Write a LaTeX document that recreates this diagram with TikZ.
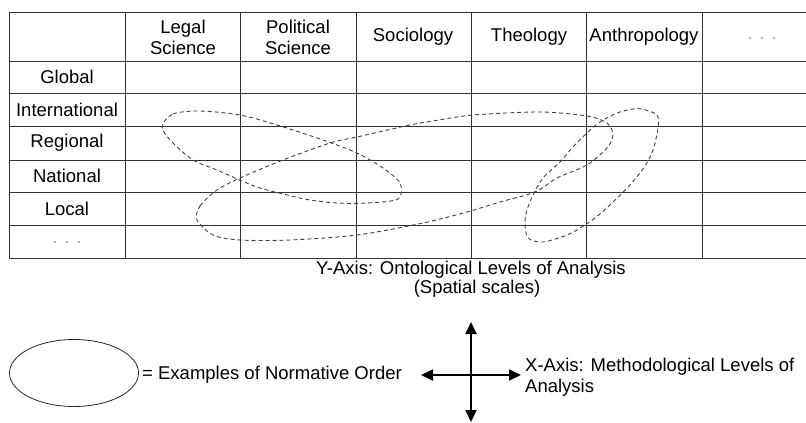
\documentclass[tikz,border=0pt]{standalone}
\usepackage{fontspec}
\setmainfont{Liberation Sans}
\usetikzlibrary{arrows.meta,shapes.geometric}

\tikzset{
  txt/.style={inner sep=0pt, font=\fontsize{18.5}{21}\selectfont, align=center},
  grid/.style={draw=black!80, line width=0.9pt},
  loopline/.style={draw=black!75, line width=0.9pt, dash pattern=on 4pt off 3pt},
  axisarrow/.style={line width=1.8pt, {Triangle[length=12pt,width=11pt]}-{Triangle[length=12pt,width=11pt]}}
}

\begin{document}
\begin{tikzpicture}[x=1pt,y=-1pt]
\useasboundingbox (0,0) rectangle (806,423);
% table lines
\draw[grid] (9,12) -- (806,12);
\draw[grid] (9,61) -- (806,61);
\draw[grid] (9,93) -- (806,93);
\draw[grid] (9,126) -- (806,126);
\draw[grid] (9,160) -- (806,160);
\draw[grid] (9,192) -- (806,192);
\draw[grid] (9,225) -- (806,225);
\draw[grid] (9,258) -- (806,258);
\draw[grid] (9,12) -- (9,258);
\draw[grid] (125,12) -- (125,258);
\draw[grid] (240,12) -- (240,258);
\draw[grid] (356,12) -- (356,258);
\draw[grid] (471,12) -- (471,258);
\draw[grid] (586,12) -- (586,258);
\draw[grid] (702,12) -- (702,258);
% column heads
\node[txt] (hlegal) at (183,37) {Legal\\Science};
\node[txt] (hpolit) at (298,37) {Political\\Science};
\node[txt] (hsoc) at (413,37) {Sociology};
\node[txt] (htheo) at (529,37) {Theology};
\node[txt] (hanth) at (644,37) {Anthropology};
\node[txt, text=black!35] (hmore) at (762,39) {. . .};
% row heads
\node[txt] (rglobal) at (67,77) {Global};
\node[txt] (rintl) at (67,110) {International};
\node[txt] (rregion) at (67,143) {Regional};
\node[txt] (rnation) at (67,176) {National};
\node[txt] (rlocal) at (67,209) {Local};
\node[txt, text=black!35] (rmore) at (67,243) {. . .};
% normative orders
\draw[loopline] plot[smooth cycle] coordinates {(162,127) (173,114) (200,111) (240,115) (277,125) (323,140) (357,153) (383,168) (400,183) (398,199) (367,203) (337,203) (310,200) (283,194) (260,188) (242,181) (217,170) (193,160) (172,142)};
\draw[loopline] plot[smooth cycle] coordinates {(197,220) (200,206) (217,190) (240,178) (283,160) (330,143) (357,137) (410,125) (433,121) (473,115) (540,112) (587,116) (607,123) (613,135) (607,148) (587,165) (557,178) (535,192) (500,202) (467,212) (423,223) (357,235) (290,240) (240,240) (213,235)};
\draw[loopline] plot[smooth cycle] coordinates {(642,109) (657,115) (658,128) (653,150) (645,166) (630,185) (613,202) (600,214) (585,225) (567,235) (543,242) (528,238) (525,223) (527,210) (533,195) (543,178) (560,162) (573,147) (587,133) (600,122) (617,113) (633,109)};
% axis caption
\node[txt] (ycap) at (471,270) {Y-Axis: Ontological Levels of Analysis};
\node[txt] (yscale) at (477,289) {(Spatial scales)};
% legend
\node[draw=black!85, line width=0.8pt, ellipse, inner sep=0pt, minimum width=129pt, minimum height=67pt] (legend) at (74,373) {};
\node[txt, anchor=west] (legtxt) at (142,375) {= Examples of Normative Order};
% axes cross
\coordinate (xl) at (421,375);
\coordinate (xr) at (521,375);
\coordinate (yt) at (471,322);
\coordinate (yb) at (471,422);
\draw[axisarrow] (xl) -- (xr);
\draw[axisarrow] (yt) -- (yb);
\node[txt, anchor=west, align=left] (xcap) at (525,377) {X-Axis: Methodological Levels of\\Analysis};
\end{tikzpicture}
\end{document}
